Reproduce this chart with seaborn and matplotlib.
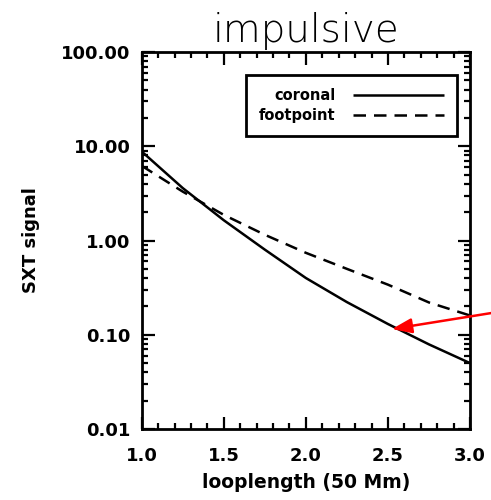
import numpy as np
import pandas as pd
import matplotlib
matplotlib.use("Agg")
import matplotlib.pyplot as plt
import seaborn as sns
from matplotlib.ticker import FixedLocator, LogLocator, NullFormatter, FuncFormatter, MultipleLocator

# values
looplength = [1.0, 1.25, 1.5, 1.75, 2.0, 2.25, 2.5, 2.75, 3.0]
coronal = [8.8, 3.6, 1.64, 0.80, 0.40, 0.222, 0.130, 0.079, 0.050]
footpoint = [6.2, 3.3, 1.87, 1.15, 0.74, 0.50, 0.34, 0.22, 0.16]
series_names = ["coronal", "footpoint"]
yticks = [0.01, 0.1, 1.0, 10.0, 100.0]
xticks = [1.0, 1.5, 2.0, 2.5, 3.0]

# red arrow (annotation), tail sits outside the axes on the right
arrow_tip = (2.524, 0.115)
arrow_tail = (3.13, 0.170)

df = pd.DataFrame({
    "x": looplength * 2,
    "y": coronal + footpoint,
    "kind": [series_names[0]] * len(coronal) + [series_names[1]] * len(footpoint),
})

sns.set_style("ticks")
plt.rcParams["font.family"] = ["DejaVu Sans"]
for k in ["text.color", "axes.labelcolor", "xtick.color", "ytick.color", "axes.edgecolor"]:
    plt.rcParams[k] = "black"

fig = plt.figure(figsize=(4.91, 5.0), dpi=100)
ax = fig.add_axes([0.2886, 0.142, 0.6687, 0.754])

sns.lineplot(data=df, x="x", y="y", style="kind", color="black",
             dashes=[(1, 0), (5, 3.2)], linewidth=1.8, ax=ax, legend=True)

ax.set_yscale("log")
ax.set_xlim(1.0, 3.0)
ax.set_ylim(0.01, 100.0)

ax.yaxis.set_major_locator(FixedLocator(yticks))
ax.yaxis.set_minor_locator(LogLocator(base=10, subs=np.arange(2, 10)))
ax.yaxis.set_minor_formatter(NullFormatter())
ax.yaxis.set_major_formatter(FuncFormatter(lambda v, p: "%.2f" % v))
ax.xaxis.set_major_locator(FixedLocator(xticks))
ax.xaxis.set_minor_locator(MultipleLocator(0.1))
ax.xaxis.set_major_formatter(FuncFormatter(lambda v, p: "%.1f" % v))

ax.tick_params(which="both", direction="in", top=True, right=True, width=1.6)
ax.tick_params(which="major", length=9, labelsize=13)
ax.tick_params(axis="y", which="major", pad=8)
ax.tick_params(axis="x", which="major", pad=13)
ax.tick_params(which="minor", length=4.5)
for lbl in ax.get_xticklabels() + ax.get_yticklabels():
    lbl.set_fontweight("bold")
for sp in ax.spines.values():
    sp.set_linewidth(2.0)

ax.set_xlabel("looplength (50 Mm)", fontsize=13.5, fontweight="bold", labelpad=6)
ax.set_ylabel("SXT signal", fontsize=13, fontweight="bold", labelpad=15)
ax.set_title("impulsive", fontsize=28, fontweight="light", pad=7)

leg = ax.legend(loc="upper right", bbox_to_anchor=(0.96, 0.939), borderaxespad=0,
                markerfirst=False, fancybox=False, edgecolor="black", framealpha=1,
                prop={"size": 10.5, "weight": "bold"},
                handlelength=6.2, borderpad=0.9, labelspacing=0.35, handletextpad=1.2)
leg.get_frame().set_linewidth(2.0)

ax.annotate("", xy=arrow_tip, xytext=arrow_tail, annotation_clip=False,
            arrowprops=dict(arrowstyle="-|>,head_length=1.2,head_width=0.45",
                            color="red", lw=1.8, shrinkA=0, shrinkB=0))

fig.savefig("out.png", dpi=100)
